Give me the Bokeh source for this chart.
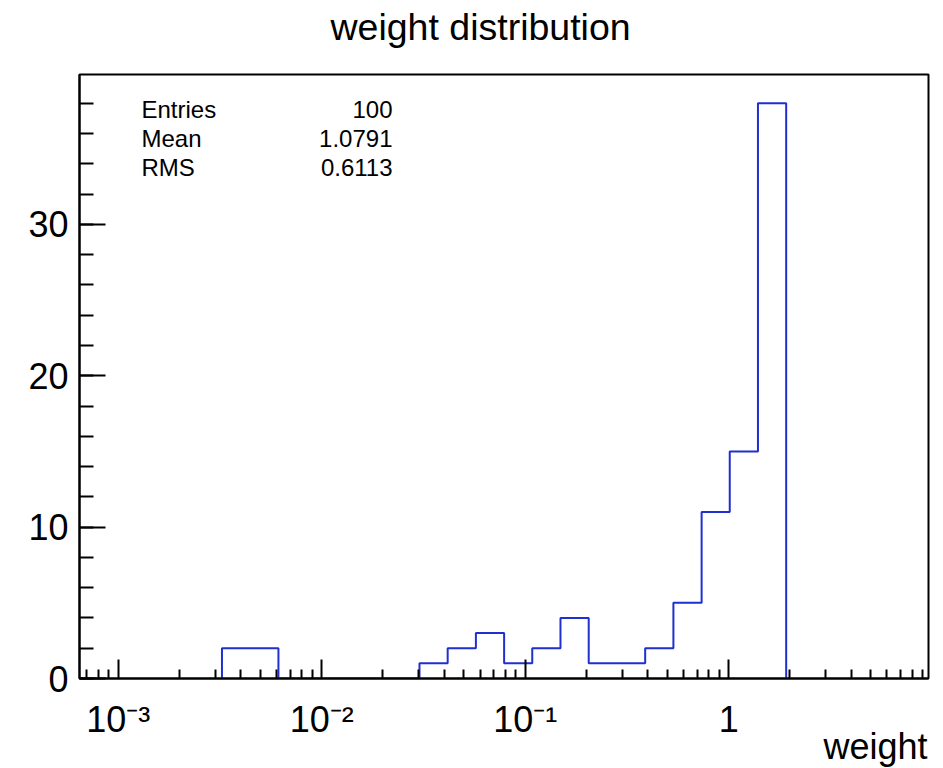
from bokeh.plotting import figure
from bokeh.models import (Range1d, FixedTicker, SingleIntervalTicker, Label,
                          CustomJSTickFormatter, Title, LogAxis)
from bokeh.embed import file_html
from bokeh.resources import INLINE

# ---- data ----
bin_edges = [0.003234, 0.004452, 0.006128, 0.008433, 0.011594, 0.015953,
             0.021966, 0.030236, 0.041597, 0.057251, 0.078795, 0.10834,
             0.14912, 0.20524, 0.28249, 0.38883, 0.53520, 0.73658, 1.0125,
             1.3934, 1.9178]
counts = [2, 2, 0, 0, 0, 0, 0, 1, 2, 3, 1, 2, 4, 1, 1, 2, 5, 11, 15, 38]

x_major_ticks = [0.001, 0.01, 0.1, 1.0]
x_tick_labels = ["10\u207b\u00b3", "10\u207b\u00b2", "10\u207b\u00b9", "1"]
y_tick_interval = 10

stat_names = ["Entries", "Mean", "RMS"]
stat_values = ["100", "1.0791", "0.6113"]

title_text = "weight distribution"
x_label_text = "weight"

FONT = "Liberation Sans"
HIST_COLOR = "#1f2fd2"

x_min, x_max = 6.45e-4, 9.6
y_min, y_max = 0, 39.9

p = figure(width=943, height=768, x_axis_type="log",
           x_range=Range1d(x_min, x_max), y_range=Range1d(y_min, y_max),
           output_backend="svg", toolbar_location=None,
           min_border_left=79, min_border_right=15,
           min_border_top=74, min_border_bottom=90,
           background_fill_color="white", border_fill_color="white")

# the real (bottom) x axis and the left y axis
xa = p.below[0]
ya = p.left[0]

# invisible spacer between the frame and the title (one hidden tick gives it height)
spacer = LogAxis(ticker=FixedTicker(ticks=x_major_ticks[-1:]),
                 formatter=CustomJSTickFormatter(code="return ''"),
                 axis_line_color=None, major_tick_line_color=None,
                 minor_tick_line_color=None, major_tick_in=0, major_tick_out=27,
                 minor_tick_in=0, minor_tick_out=0, major_label_standoff=0,
                 major_label_text_font_size="0px")
p.add_layout(spacer, "above")

p.title = Title(text=title_text, align="left", offset=251,
                text_font=FONT, text_font_size="37.5px",
                text_font_style="normal", text_color="black",
                vertical_align="bottom", standoff=0)

p.xgrid.visible = False
p.ygrid.visible = False
p.outline_line_color = "black"
p.outline_line_width = 2
p.outline_line_alpha = 1.0

# histogram outline (ROOT-style step)
xs = [bin_edges[0]] + bin_edges
ys = [0] + counts + [0]
p.step(xs, ys, mode="after", line_color=HIST_COLOR, line_width=2)

# x axis (log)
minor = [k * 10.0 ** e for e in range(-4, 1) for k in range(2, 10)
         if x_min < k * 10.0 ** e < x_max]
xa.ticker = FixedTicker(ticks=x_major_ticks, minor_ticks=minor)
xa.formatter = CustomJSTickFormatter(
    args=dict(tvals=x_major_ticks, tlabels=x_tick_labels),
    code="""
    for (let i = 0; i < tvals.length; i++) {
        if (Math.abs(tvals[i] - tick) <= 1e-6 * tvals[i]) { return tlabels[i]; }
    }
    return '';
    """)
xa.axis_line_color = "black"
xa.axis_line_width = 2
xa.major_tick_in = 19
xa.major_tick_out = 0
xa.minor_tick_in = 9
xa.minor_tick_out = 0
xa.major_tick_line_width = 2
xa.minor_tick_line_width = 2
xa.major_tick_line_color = "black"
xa.minor_tick_line_color = "black"
xa.major_label_text_font = FONT
xa.major_label_text_font_size = "36px"
xa.major_label_text_color = "black"
xa.major_label_standoff = 20

# x axis title, right-aligned below the tick labels
try:
    xtitle = Title(text=x_label_text, align="right", offset=1,
                   text_font=FONT, text_font_size="36px",
                   text_font_style="normal", text_color="black",
                   vertical_align="top", standoff=-34)
    p.add_layout(xtitle, "below")
except ValueError:
    xa.axis_label = x_label_text
    xa.axis_label_text_font = FONT
    xa.axis_label_text_font_size = "36px"
    xa.axis_label_text_font_style = "normal"
    xa.axis_label_standoff = -17

# y axis
ya.ticker = SingleIntervalTicker(interval=y_tick_interval, num_minor_ticks=5)
ya.axis_line_color = "black"
ya.axis_line_width = 2
ya.major_tick_in = 26
ya.major_tick_out = 0
ya.minor_tick_in = 14
ya.minor_tick_out = 0
ya.major_tick_line_width = 2
ya.minor_tick_line_width = 2
ya.major_tick_line_color = "black"
ya.minor_tick_line_color = "black"
ya.major_label_text_font = FONT
ya.major_label_text_font_size = "36px"
ya.major_label_text_color = "black"
ya.major_label_standoff = 11

# statistics box text
row_y = [569.3, 540.1, 510.9]
for name, val, yy in zip(stat_names, stat_values, row_y):
    p.add_layout(Label(x=62, y=yy, x_units="screen", y_units="screen",
                       text=name, text_align="left", text_baseline="alphabetic",
                       text_font=FONT, text_font_size="24px", text_color="black"))
    p.add_layout(Label(x=313, y=yy, x_units="screen", y_units="screen",
                       text=val, text_align="right", text_baseline="alphabetic",
                       text_font=FONT, text_font_size="24px", text_color="black"))

open("out.html", "w").write(file_html(p, INLINE))
